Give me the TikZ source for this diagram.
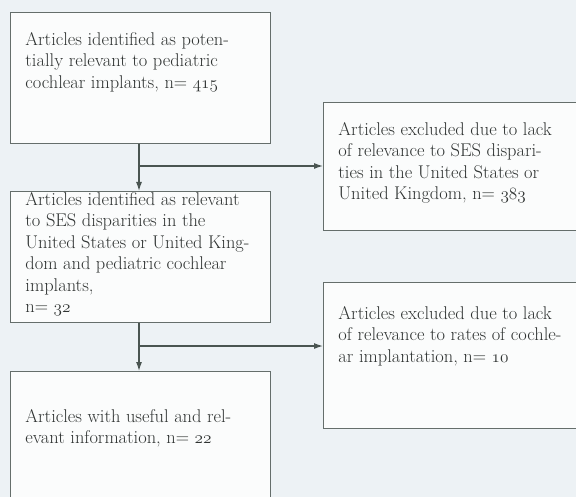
\documentclass[tikz,border=0pt]{standalone}
\usepackage{fontspec}
\usetikzlibrary{arrows.meta}
\definecolor{paperc}{HTML}{EDF2F5}
\definecolor{boxc}{HTML}{FBFCFC}
\definecolor{linec}{HTML}{4A5551}
\definecolor{textc}{HTML}{2F3332}
\tikzset{
  box/.style={draw=linec!85, fill=boxc, line width=0.9bp, anchor=north west,
    inner xsep=15bp, inner ysep=0bp, text=textc, font=\fontsize{18.5}{21.5}\selectfont},
  link/.style={draw=linec, line width=1.2bp, -{Latex[length=9bp,width=6bp]}}
}
% text in a box of fixed size, pushed down from the top
\newcommand{\boxtext}[4]{\parbox[c][#1bp][t]{#2bp}{\raggedright\vspace*{#3bp}#4}}
% old style figures
\newcommand{\osf}[1]{{\usefont{OML}{cmm}{m}{it}#1}}
\begin{document}
\begin{tikzpicture}[x=1bp,y=-1bp]

\clip (0,0) rectangle (576,497);
\fill[paperc] (0,0) rectangle (576,497);

\def \lw {230}  % text width of the left boxes
\def \rw {250}  % text width of the right boxes

\node[box] (ident) at (10,12) {\boxtext{131}{\lw}{20}{Articles identified as poten-\\
  tially relevant to pediatric\\ cochlear implants, n= \osf{415}}};
\node[box] (ses) at (10,191) {\boxtext{131}{\lw}{1}{Articles identified as relevant\\
  to SES disparities in the\\ United States or United King-\\
  dom and pediatric cochlear\\ implants,\\ n= \osf{32}}};
\node[box] (useful) at (10,371) {\boxtext{140}{\lw}{38}{Articles with useful and rel-\\
  evant information, n= \osf{22}}};

\node[box] (excl1) at (323,102) {\boxtext{128}{\rw}{20}{Articles excluded due to lack\\
  of relevance to SES dispari-\\ ties in the United States or\\
  United Kingdom, n= \osf{383}}};
\node[box] (excl2) at (323,282) {\boxtext{146}{\rw}{24}{Articles excluded due to lack\\
  of relevance to rates of cochle-\\ ar implantation, n= \osf{10}}};

\coordinate (b1) at (139,166);
\coordinate (b2) at (139,346);

\draw[link] (ident.south -| b1) -- (ses.north -| b1);
\draw[link] (b1) -- (b1 -| excl1.west);
\draw[link] (ses.south -| b2) -- (useful.north -| b2);
\draw[link] (b2) -- (b2 -| excl2.west);

\end{tikzpicture}
\end{document}
